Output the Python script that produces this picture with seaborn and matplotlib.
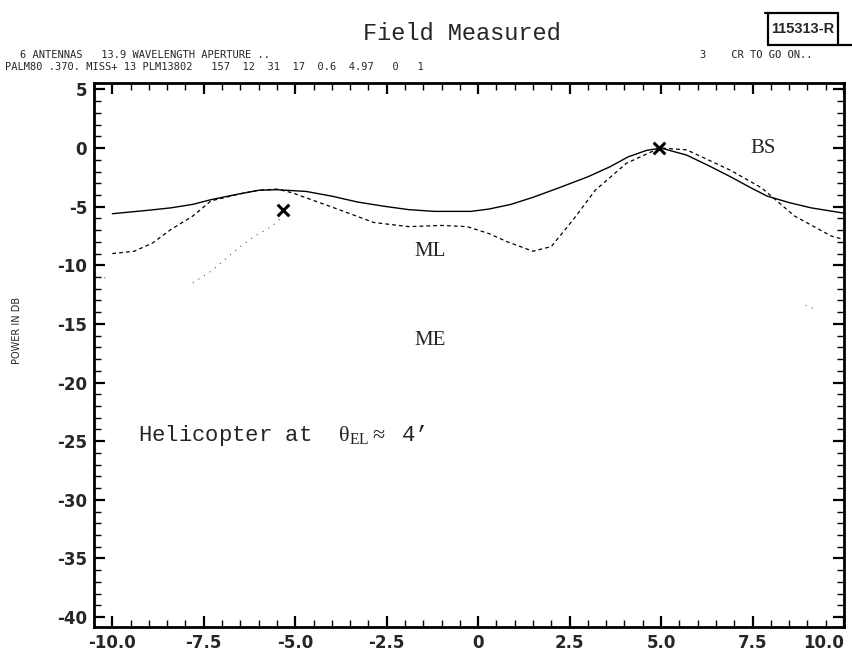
import matplotlib
matplotlib.use("Agg")
import matplotlib.pyplot as plt
import seaborn as sns
import pandas as pd
from matplotlib.ticker import MultipleLocator, FixedLocator

# ---- data ----
bs_x = [-10.0, -9.0, -8.4, -7.8, -7.3, -6.6, -6.0, -5.5, -4.7, -4.0, -3.3, -2.6,
        -1.9, -1.2, -0.2, 0.3, 0.9, 1.5, 2.2, 3.0, 3.6, 4.1, 4.6, 5.0, 5.7, 6.3,
        6.9, 7.4, 7.9, 8.5, 9.1, 10.0]
bs_y = [-5.6, -5.3, -5.1, -4.8, -4.4, -3.95, -3.6, -3.55, -3.7, -4.1, -4.6, -4.95,
        -5.25, -5.4, -5.4, -5.2, -4.8, -4.2, -3.4, -2.45, -1.6, -0.75, -0.2, 0.0,
        -0.6, -1.5, -2.45, -3.3, -4.1, -4.65, -5.1, -5.55]

ml_x = [-10.0, -9.4, -8.9, -8.4, -7.8, -7.3, -6.5, -6.0, -5.5, -5.1, -4.2, -3.5,
        -2.85, -1.9, -1.0, -0.3, 0.3, 0.8, 1.5, 2.0, 2.6, 3.2, 4.05, 4.75, 5.0,
        5.7, 6.9, 7.75, 8.65, 9.65, 10.0]
ml_y = [-9.0, -8.8, -8.1, -6.95, -5.8, -4.5, -3.9, -3.6, -3.5, -3.8, -4.8, -5.6,
        -6.35, -6.7, -6.6, -6.7, -7.3, -8.0, -8.8, -8.4, -6.1, -3.6, -1.3, -0.3, 0.0,
        -0.15, -1.9, -3.4, -5.8, -7.5, -7.8]

me_x = [-7.8, -7.3, -6.5, -6.1, -5.65, -5.4]
me_y = [-11.5, -10.5, -8.4, -7.5, -6.7, -6.0]
me2_x = [-10.4, -10.1]
me2_y = [-11.0, -11.1]
me3_x = [8.95, 9.25]
me3_y = [-13.4, -13.8]

mark_x = [-5.33, 4.95]
mark_y = [-5.3, 0.0]

x_ticks = [-10.0, -7.5, -5.0, -2.5, 0.0, 2.5, 5.0, 7.5, 10.0]
x_labels = ["-10.0", "-7.5", "-5.0", "-2.5", "0", "2.5", "5.0", "7.5", "10.0"]
y_ticks = [5, 0, -5, -10, -15, -20, -25, -30, -35, -40]
y_labels = ["5", "0", "-5", "-10", "-15", "-20", "-25", "-30", "-35", "-40"]

# ---- style ----
sns.set_style("ticks")
plt.rcParams["font.family"] = ["DejaVu Sans"]
plt.rcParams["axes.unicode_minus"] = False
plt.rcParams["mathtext.fontset"] = "custom"
plt.rcParams["mathtext.rm"] = "Liberation Serif"
plt.rcParams["mathtext.it"] = "Liberation Serif"

fig = plt.figure(figsize=(8.52, 6.67), dpi=100)
ax = fig.add_axes([94 / 852, 40 / 667, 750 / 852, 544 / 667])

df_bs = pd.DataFrame({"x": bs_x, "y": bs_y})
df_ml = pd.DataFrame({"x": ml_x, "y": ml_y})
df_me = pd.DataFrame({"x": me_x, "y": me_y})
df_me2 = pd.DataFrame({"x": me2_x, "y": me2_y})
df_me3 = pd.DataFrame({"x": me3_x, "y": me3_y})
df_mk = pd.DataFrame({"x": mark_x, "y": mark_y})

sns.lineplot(data=df_bs, x="x", y="y", ax=ax, color="black", lw=1.0,
             linestyle="-", sort=False, estimator=None)
sns.lineplot(data=df_ml, x="x", y="y", ax=ax, color="black", lw=0.9,
             linestyle=(0, (3, 2.5)), sort=False, estimator=None)
for d in (df_me, df_me2, df_me3):
    sns.lineplot(data=d, x="x", y="y", ax=ax, color="0.35", lw=0.8,
                 linestyle=(0, (1, 5)), sort=False, estimator=None)
sns.scatterplot(data=df_mk, x="x", y="y", ax=ax, marker="x", s=70,
                color="black", linewidth=2.2, zorder=5)

ax.set_xlim(-10.5, 10.0)
ax.set_ylim(-40.85, 5.55)
ax.xaxis.set_major_locator(FixedLocator(x_ticks))
ax.set_xticklabels(x_labels)
ax.yaxis.set_major_locator(FixedLocator(y_ticks))
ax.set_yticklabels(y_labels)
ax.xaxis.set_minor_locator(MultipleLocator(0.5))
ax.yaxis.set_minor_locator(MultipleLocator(1))
ax.tick_params(which="both", direction="in", top=True, right=True,
               bottom=True, left=True, color="black")
ax.tick_params(which="major", length=8, width=1.6, labelsize=12, pad=5)
ax.tick_params(which="minor", length=5, width=1.0)
for lab in ax.get_xticklabels() + ax.get_yticklabels():
    lab.set_fontweight("semibold")
ax.get_xticklabels()[-1].set_horizontalalignment("right")
for sp in ax.spines.values():
    sp.set_linewidth(2.0)
    sp.set_color("black")
ax.set_xlabel("")
ax.set_ylabel("POWER IN DB", fontsize=7, family=["Liberation Sans Narrow", "DejaVu Sans"])
ax.yaxis.set_label_coords(-72 / 750, 0.545)

# curve labels
ax.text(7.45, 0.0, "BS", fontsize=15, family="Liberation Serif", va="center", ha="left")
ax.text(-1.75, -8.8, "ML", fontsize=15, family="Liberation Serif", va="center", ha="left")
ax.text(-1.75, -16.4, "ME", fontsize=15, family="Liberation Serif", va="center", ha="left")
ax.text(-9.3, -24.5, r"Helicopter at  $\mathrm{θ}_{\mathrm{EL}}$$\approx$ 4’",
        fontsize=16, family="Liberation Mono", va="center", ha="left")

# header
fig.text(462 / 852, 1 - 33 / 667, "Field Measured", fontsize=17,
         family="Liberation Mono", ha="center", va="center")
fig.text(803 / 852, 1 - 29 / 667, "115313-R", fontsize=10.5, fontweight="bold",
         family=["Liberation Sans Narrow", "Liberation Sans"], ha="center", va="center")
for xs, ys in (([765, 838], [13, 13]), ([768, 852], [45, 45]),
               ([768, 768], [13, 45]), ([838, 838], [13, 45])):
    fig.add_artist(plt.Line2D([v / 852 for v in xs], [1 - v / 667 for v in ys],
                              color="black", lw=1.6, transform=fig.transFigure))

mono = ["DejaVu Sans Mono"]
fig.text(20 / 852, 1 - 55 / 667, "6 ANTENNAS   13.9 WAVELENGTH APERTURE ..",
         fontsize=7.5, family=mono, ha="left", va="center")
fig.text(5 / 852, 1 - 67 / 667,
         "PALM80 .370. MISS+ 13 PLM13802   157  12  31  17  0.6  4.97   0   1",
         fontsize=7.5, family=mono, ha="left", va="center")
fig.text(700 / 852, 1 - 55 / 667, "3    CR TO GO ON..", fontsize=7.5,
         family=mono, ha="left", va="center")

fig.savefig("out.png", dpi=100)
